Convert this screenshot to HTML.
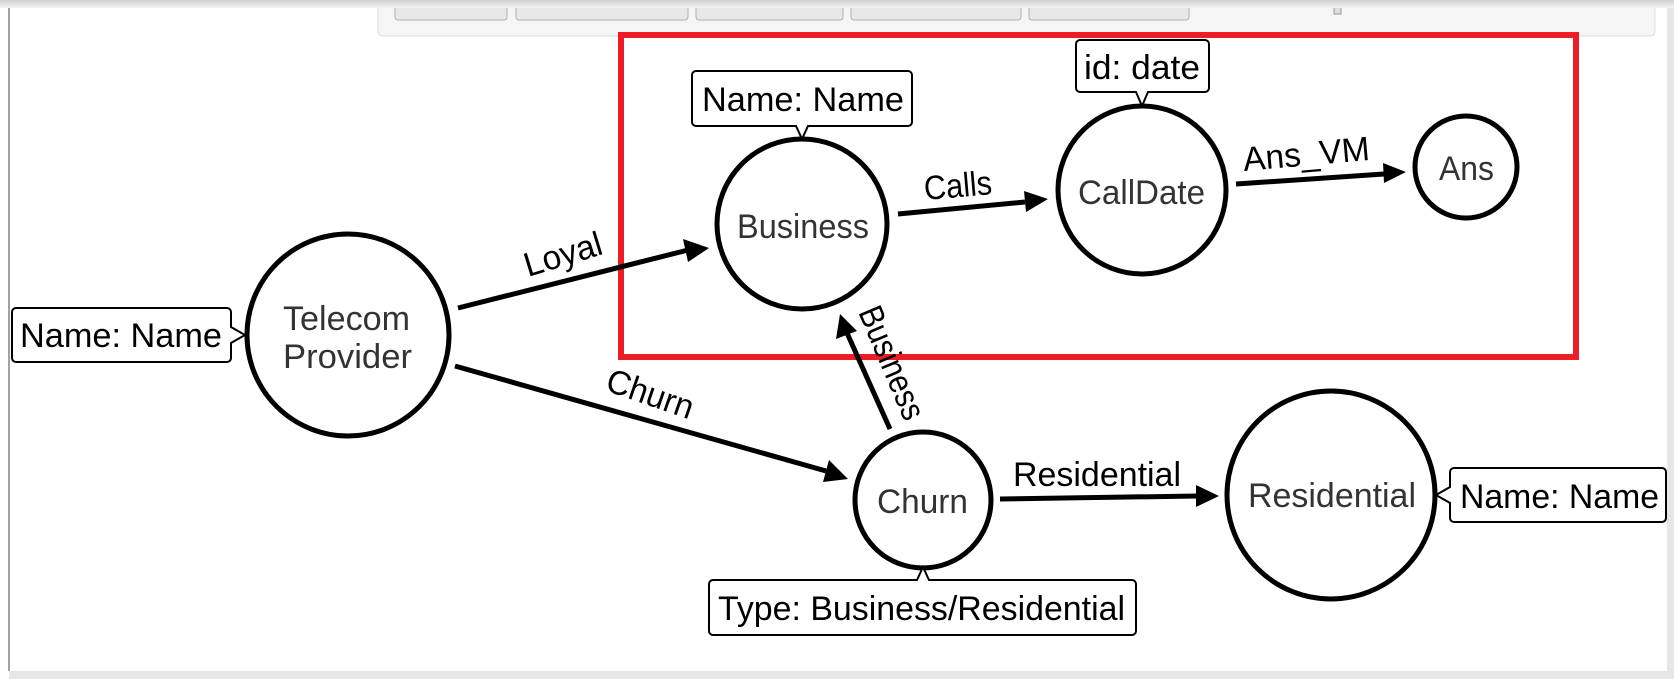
<!DOCTYPE html>
<html><head><meta charset="utf-8"><style>
html,body{margin:0;padding:0;background:#fff;}
svg{display:block;}
text{font-family:"Liberation Sans",sans-serif;}
</style></head><body>
<svg width="1674" height="679" viewBox="0 0 1674 679" xmlns="http://www.w3.org/2000/svg">
<defs>
<linearGradient id="sh" x1="0" y1="0" x2="0" y2="1"><stop offset="0" stop-color="#cfcfcf"/><stop offset="1" stop-color="#f4f4f4"/></linearGradient>
</defs>
<rect x="0" y="0" width="1674" height="679" fill="#fff"/>
<rect x="378" y="-6" width="1277" height="42" rx="4" fill="#f5f5f5" stroke="#dcdcdc"/>
<g fill="#e8e8e8" stroke="#b0b0b0">
<rect x="395" y="-4" width="112" height="24" rx="3"/>
<rect x="516" y="-4" width="172" height="24" rx="3"/>
<rect x="696" y="-4" width="147" height="24" rx="3"/>
<rect x="851" y="-4" width="170" height="24" rx="3"/>
<rect x="1029" y="-4" width="160" height="24" rx="3"/>
</g>
<rect x="1334" y="6" width="7" height="8" fill="#ddd" stroke="#999"/>
<rect x="0" y="0" width="1674" height="8" fill="url(#sh)"/>
<line x1="9" y1="8" x2="9" y2="671" stroke="#444" stroke-width="1"/>
<rect x="9" y="671" width="1660" height="8" fill="#e6e6e6"/>
<rect x="1667" y="8" width="7" height="671" fill="#e6e6e6"/>
<rect x="621" y="35" width="955" height="322" fill="none" stroke="#ee1c25" stroke-width="6"/>

<g stroke="#000" stroke-width="5" fill="#000">
<line x1="458" y1="308" x2="688" y2="250"/>
<polygon points="709,248 683,239 688,262" stroke="none"/>
<line x1="455" y1="366" x2="826" y2="471"/>
<polygon points="848,479 829,460 823,482" stroke="none"/>
<line x1="898" y1="214" x2="1025" y2="202"/>
<polygon points="1048,199 1024,191 1026,212" stroke="none"/>
<line x1="1236" y1="184" x2="1384" y2="174"/>
<polygon points="1406,172 1383,163 1384,183" stroke="none"/>
<line x1="890" y1="429" x2="847" y2="333"/>
<polygon points="840,314 836,339 857,331" stroke="none"/>
<line x1="1000" y1="499" x2="1197" y2="496"/>
<polygon points="1219,496 1196,485 1196,507" stroke="none"/>
</g>

<g fill="#fff" stroke="#000" stroke-width="5">
<circle cx="348" cy="335" r="101"/>
<circle cx="802" cy="224" r="85"/>
<circle cx="1142" cy="190" r="84"/>
<circle cx="1466" cy="167" r="51"/>
<circle cx="923" cy="500" r="68"/>
<circle cx="1331" cy="495" r="104"/>
</g>

<g fill="#fff" stroke="#000" stroke-width="2">
<path d="M16,308 H227 a4,4 0 0 1 4,4 V327 L245,335 L231,343 V358 a4,4 0 0 1 -4,4 H16 a4,4 0 0 1 -4,-4 V312 a4,4 0 0 1 4,-4 Z"/>
<path d="M696,71 H908 a4,4 0 0 1 4,4 V122 a4,4 0 0 1 -4,4 H808 L802,139 L796,126 H696 a4,4 0 0 1 -4,-4 V75 a4,4 0 0 1 4,-4 Z"/>
<path d="M1080,40 H1205 a4,4 0 0 1 4,4 V88 a4,4 0 0 1 -4,4 H1148 L1142,106 L1136,92 H1080 a4,4 0 0 1 -4,-4 V44 a4,4 0 0 1 4,-4 Z"/>
<path d="M1454,468 H1662 a4,4 0 0 1 4,4 V518 a4,4 0 0 1 -4,4 H1454 a4,4 0 0 1 -4,-4 V503 L1436,495 L1450,487 V472 a4,4 0 0 1 4,-4 Z"/>
<path d="M713,580 H917 L923,567 L929,580 H1132 a4,4 0 0 1 4,4 V631 a4,4 0 0 1 -4,4 H713 a4,4 0 0 1 -4,-4 V584 a4,4 0 0 1 4,-4 Z"/>
</g>

<g fill="#333" font-size="34">
<text x="283" y="330" textLength="127" lengthAdjust="spacingAndGlyphs">Telecom</text>
<text x="283" y="368" textLength="129" lengthAdjust="spacingAndGlyphs">Provider</text>
<text x="737" y="238" textLength="132" lengthAdjust="spacingAndGlyphs">Business</text>
<text x="1078" y="204" textLength="127" lengthAdjust="spacingAndGlyphs">CallDate</text>
<text x="1439" y="180" textLength="55" lengthAdjust="spacingAndGlyphs">Ans</text>
<text x="877" y="513" textLength="91" lengthAdjust="spacingAndGlyphs">Churn</text>
<text x="1248" y="507" textLength="168" lengthAdjust="spacingAndGlyphs">Residential</text>
</g>
<g fill="#000" font-size="34">
<text x="20" y="347" textLength="202" lengthAdjust="spacingAndGlyphs">Name: Name</text>
<text x="702" y="111" textLength="202" lengthAdjust="spacingAndGlyphs">Name: Name</text>
<text x="1084" y="79" textLength="116" lengthAdjust="spacingAndGlyphs">id: date</text>
<text x="1460" y="508" textLength="199" lengthAdjust="spacingAndGlyphs">Name: Name</text>
<text x="718" y="620" textLength="407" lengthAdjust="spacingAndGlyphs">Type: Business/Residential</text>
</g>
<g fill="#000" font-size="34">
<text x="0" y="0" textLength="80" lengthAdjust="spacingAndGlyphs" transform="translate(528,277) rotate(-17)">Loyal</text>
<text x="0" y="0" textLength="90" lengthAdjust="spacingAndGlyphs" transform="translate(604,390) rotate(19)">Churn</text>
<text x="0" y="0" textLength="68" lengthAdjust="spacingAndGlyphs" transform="translate(925,200) rotate(-5)">Calls</text>
<text x="0" y="0" textLength="127" lengthAdjust="spacingAndGlyphs" transform="translate(1244,171) rotate(-5)">Ans_VM</text>
<text x="0" y="0" textLength="120" lengthAdjust="spacingAndGlyphs" transform="translate(858,312) rotate(67)">Business</text>
<text x="1013" y="486" textLength="168" lengthAdjust="spacingAndGlyphs">Residential</text>
</g>
</svg>
</body></html>
